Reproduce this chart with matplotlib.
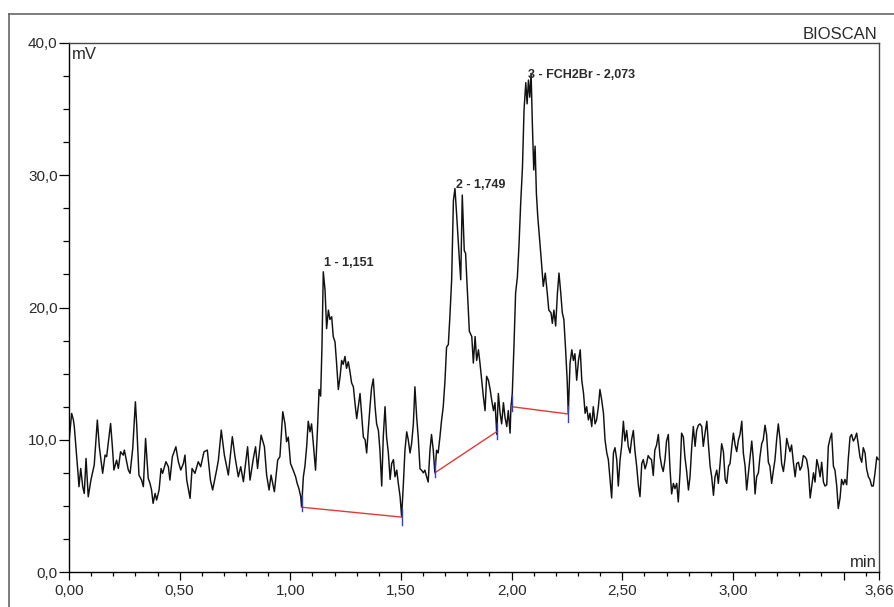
import matplotlib
matplotlib.use("Agg")
from matplotlib import pyplot as plt
from matplotlib.ticker import MultipleLocator
from matplotlib.lines import Line2D

plt.rcParams['font.family'] = ['Liberation Sans', 'DejaVu Sans']

# radio trace, retention time (min) vs detector signal (mV)
time_min = [
    0.000, 0.012, 0.020, 0.024, 0.035, 0.042, 0.045, 0.053, 0.062, 0.069, 0.077, 0.087, 0.099, 0.114,
    0.128, 0.137, 0.152, 0.163, 0.170, 0.188, 0.196, 0.203, 0.215, 0.223, 0.233, 0.245, 0.250, 0.268,
    0.276, 0.288, 0.300, 0.306, 0.316, 0.328, 0.336, 0.346, 0.358, 0.366, 0.373, 0.380, 0.389, 0.396,
    0.407, 0.416, 0.423, 0.438, 0.449, 0.456, 0.467, 0.483, 0.494, 0.505, 0.517, 0.524, 0.532, 0.547,
    0.556, 0.569, 0.584, 0.595, 0.610, 0.625, 0.639, 0.649, 0.667, 0.675, 0.688, 0.702, 0.720, 0.738,
    0.750, 0.765, 0.776, 0.788, 0.807, 0.818, 0.833, 0.843, 0.852, 0.868, 0.883, 0.893, 0.904, 0.913,
    0.928, 0.943, 0.953, 0.966,
    0.976, 0.983, 0.991, 1.001, 1.013, 1.024, 1.031, 1.039, 1.047, 1.051, 1.059, 1.066, 1.074, 1.081,
    1.089, 1.096, 1.104, 1.114, 1.122, 1.130, 1.137, 1.143, 1.149, 1.157, 1.164, 1.172, 1.179, 1.187,
    1.194, 1.202, 1.209, 1.217, 1.225, 1.232, 1.239, 1.247, 1.254, 1.262, 1.270, 1.277, 1.285, 1.292,
    1.300, 1.307, 1.315, 1.323, 1.330, 1.338, 1.345, 1.352, 1.360, 1.367, 1.375, 1.383, 1.390, 1.398,
    1.405, 1.413, 1.420, 1.428, 1.435, 1.443, 1.451, 1.458, 1.466, 1.473, 1.481, 1.488, 1.496, 1.503,
    1.511, 1.518, 1.526, 1.533, 1.541, 1.548, 1.556, 1.563, 1.571, 1.578, 1.586, 1.593, 1.601, 1.608,
    1.616, 1.623, 1.631, 1.638, 1.646, 1.653, 1.661, 1.668, 1.676, 1.683, 1.691, 1.699, 1.706, 1.714,
    1.721, 1.729,
    1.737, 1.744, 1.752, 1.764, 1.770, 1.777, 1.786, 1.792, 1.797, 1.809, 1.820, 1.827, 1.835, 1.842,
    1.850, 1.857, 1.865, 1.872, 1.880, 1.887, 1.895, 1.903, 1.910, 1.918, 1.925, 1.933, 1.940, 1.948,
    1.955, 1.963, 1.970, 1.978, 1.985, 1.993,
    1.997, 2.003, 2.011, 2.018, 2.026, 2.033, 2.041, 2.049, 2.056, 2.064, 2.070, 2.076, 2.082, 2.088,
    2.094, 2.100, 2.106, 2.112, 2.118, 2.127, 2.134, 2.143, 2.152, 2.161, 2.168, 2.178, 2.184, 2.191,
    2.199, 2.207, 2.214, 2.222, 2.229, 2.236, 2.244, 2.251, 2.256, 2.264, 2.272, 2.279, 2.286, 2.294,
    2.302, 2.310, 2.317, 2.325, 2.332, 2.339, 2.347, 2.354, 2.362, 2.369, 2.377, 2.384, 2.392,
    2.399, 2.407, 2.415, 2.422, 2.430, 2.437, 2.445, 2.452, 2.460, 2.467, 2.475, 2.482, 2.490, 2.497,
    2.505, 2.512, 2.520, 2.527, 2.535, 2.542, 2.550, 2.557, 2.565, 2.573, 2.580, 2.588, 2.595, 2.603,
    2.610, 2.617, 2.625, 2.632, 2.640, 2.647, 2.655, 2.663, 2.670, 2.678, 2.685, 2.693, 2.700, 2.708,
    2.716, 2.723, 2.731, 2.738, 2.746, 2.753, 2.761, 2.768, 2.776, 2.783, 2.791, 2.799, 2.806, 2.814,
    2.821, 2.829, 2.836, 2.844, 2.851, 2.859, 2.866, 2.874, 2.882, 2.889, 2.897, 2.904, 2.912, 2.919,
    2.927, 2.934, 2.942, 2.949, 2.957, 2.965, 2.972, 2.980, 2.987, 2.995, 3.002, 3.010, 3.017, 3.025,
    3.032, 3.040, 3.047, 3.055, 3.062, 3.070, 3.077, 3.085, 3.092, 3.100, 3.107, 3.115, 3.122, 3.130,
    3.137, 3.145, 3.152, 3.160, 3.167, 3.175, 3.183, 3.190, 3.198, 3.205, 3.213, 3.220, 3.228, 3.235,
    3.243, 3.250, 3.258, 3.265, 3.273, 3.281, 3.288, 3.296, 3.303, 3.311, 3.318, 3.326, 3.333, 3.341,
    3.349, 3.356, 3.364, 3.371, 3.379, 3.386, 3.394, 3.401, 3.409, 3.416, 3.424, 3.431, 3.439, 3.446,
    3.454, 3.461, 3.469, 3.476, 3.484, 3.491, 3.499, 3.506, 3.514, 3.521, 3.529, 3.536, 3.544, 3.551,
    3.559, 3.566, 3.574, 3.582, 3.589, 3.597, 3.604, 3.612, 3.619, 3.627, 3.634, 3.642, 3.650, 3.657,
]
signal_mv = [
    9.85, 11.99, 11.49, 10.98, 8.72, 7.20, 6.45, 7.83, 6.45, 5.94, 8.59, 5.69, 6.95, 8.09,
    11.49, 9.47, 7.46, 8.84, 8.72, 11.23, 9.47, 7.71, 8.46, 7.83, 9.09, 8.84, 9.22, 7.71,
    7.46, 9.35, 12.87, 11.11, 7.33, 6.95, 6.45, 10.10, 7.08, 6.70, 6.20, 5.19, 5.94, 5.44,
    6.20, 7.83, 7.46, 8.34, 7.96, 6.95, 8.72, 9.47, 8.34, 7.71, 8.21, 8.84, 6.95, 5.57,
    7.83, 7.46, 8.34, 7.96, 9.09, 9.22, 6.95, 6.20, 7.71, 8.46, 10.73, 8.84, 7.33, 10.23,
    8.72, 7.20, 7.96, 6.83, 9.47, 6.95, 8.59, 9.47, 7.83, 10.35, 9.47, 7.33, 6.20, 7.33,
    6.07, 8.46, 8.72, 12.12,
    11.2, 9.85, 10.2, 8.2, 7.7, 7.2, 6.7, 6.3, 5.7, 4.9, 7.2, 8.0, 9.5, 11.4,
    10.6, 11.2, 9.7, 7.7, 10.5, 13.8, 13.3, 17.0, 22.7, 21.3, 18.4, 19.8, 19.1, 19.3,
    17.8, 17.4, 15.8, 13.8, 14.8, 16.0, 15.7, 16.3, 15.4, 15.9, 15.1, 14.3, 14.0, 12.8,
    11.6, 12.5, 13.5, 11.7, 10.2, 10.0, 9.0, 10.7, 12.5, 13.9, 14.6, 12.5, 11.2, 10.7,
    9.2, 6.5, 10.2, 12.5, 10.2, 9.0, 7.0, 8.2, 8.5, 7.2, 7.7, 6.7, 5.7, 4.2,
    6.7, 9.2, 10.6, 10.0, 9.0, 9.7, 11.2, 14.0, 11.7, 10.2, 7.8, 7.7, 7.5, 7.7,
    7.2, 6.8, 9.2, 10.4, 9.2, 7.5, 9.2, 9.0, 10.2, 11.4, 12.5, 14.5, 17.0, 17.2,
    19.3, 22.1,
    28.1, 29.0, 26.9, 23.6, 22.1, 28.5, 24.3, 24.1, 22.3, 18.2, 17.8, 15.8, 17.8, 16.0,
    16.8, 15.8, 14.5, 13.3, 12.2, 14.8, 14.5, 13.8, 13.0, 12.2, 12.8, 10.4, 13.5, 12.0,
    11.2, 12.8, 11.7, 11.0, 12.2, 10.5,
    12.5, 13.5, 17.3, 21.1, 22.3, 24.6, 27.9, 30.6, 34.9, 37.0, 35.4, 37.2, 35.9, 37.7,
    33.7, 30.4, 32.2, 28.6, 26.9, 25.1, 23.6, 21.6, 22.6, 21.1, 19.8, 19.6, 18.8, 19.8,
    18.6, 21.1, 22.6, 21.1, 19.6, 19.1, 16.8, 14.5, 12.0, 15.8, 16.8, 16.0, 16.5, 14.5,
    16.0, 16.8, 14.5, 13.5, 12.0, 12.5, 11.5, 12.0, 11.0, 12.5, 11.2, 11.5, 12.5,
    13.8, 13.0, 12.0, 10.0, 9.0, 8.5, 7.0, 5.6, 9.0, 9.4, 8.5, 6.5, 8.5, 9.5,
    11.4, 9.9, 10.7, 9.5, 9.0, 10.0, 10.7, 9.2, 8.0, 6.5, 5.7, 8.2, 8.5, 7.8,
    8.2, 8.8, 8.6, 8.5, 7.3, 9.2, 9.6, 10.4, 8.8, 8.0, 7.6, 8.5, 9.9, 10.4,
    7.7, 5.9, 6.7, 6.3, 6.7, 5.3, 7.5, 10.5, 10.2, 8.7, 7.6, 6.2, 7.2, 9.5,
    11.0, 9.5, 10.7, 11.1, 11.2, 11.0, 9.5, 10.5, 11.4, 9.7, 8.0, 7.2, 5.8, 7.2,
    7.7, 6.7, 8.2, 9.7, 9.1, 7.0, 6.7, 8.0, 8.2, 9.5, 10.5, 9.6, 9.1, 10.0,
    10.4, 11.4, 9.0, 8.0, 6.2, 7.5, 8.6, 9.9, 8.5, 5.9, 7.2, 7.5, 8.7, 9.7,
    10.0, 11.1, 10.4, 8.3, 8.0, 6.7, 7.7, 8.5, 10.1, 11.2, 10.0, 8.2, 7.6, 8.5,
    10.1, 9.6, 9.1, 9.6, 8.3, 7.2, 8.2, 8.3, 7.7, 8.0, 8.8, 8.7, 8.5, 7.7,
    5.6, 6.5, 7.5, 6.8, 8.5, 8.0, 7.2, 8.3, 6.8, 6.5, 6.6, 9.5, 10.1, 10.5,
    8.0, 7.7, 6.5, 4.8, 5.6, 7.0, 6.6, 7.0, 6.6, 8.5, 10.2, 10.4, 9.9, 10.1,
    10.5, 9.7, 8.7, 8.3, 9.4, 9.0, 7.8, 7.2, 7.0, 6.5, 6.5, 7.5, 8.7, 8.5,
]

# integration baselines, one per peak
base_start_t = [1.051, 1.653, 2.000]
base_start_mv = [4.9, 7.5, 12.5]
base_end_t = [1.503, 1.936, 2.255]
base_end_mv = [4.15, 10.65, 11.95]

# peak labels: retention time, label height, text
peak_t = [1.151, 1.749, 2.073]
label_mv = [23.4, 29.3, 37.6]
peak_names = ["1 - 1,151", "2 - 1,749", "3 - FCH2Br - 2,073"]

x_ticks = [0.0, 0.5, 1.0, 1.5, 2.0, 2.5, 3.0, 3.5, 3.66]
x_labels = ["0,00", "0,50", "1,00", "1,50", "2,00", "2,50", "3,00", "", "3,66"]
y_ticks = [0, 10, 20, 30, 40]
y_labels = ["0,0", "10,0", "20,0", "30,0", "40,0"]

text_color = "#2a2a2a"

fig = plt.figure(figsize=(8.95, 6.07), dpi=100)
ax = fig.add_axes([69 / 895, 35 / 607, 810 / 895, 529 / 607])

ax.plot(time_min, signal_mv, color="#111111", lw=1.05)

for i in range(len(base_start_t)):
    ax.plot([base_start_t[i], base_end_t[i]], [base_start_mv[i], base_end_mv[i]], color="#e03a3a", lw=1.0)
    ax.plot([base_start_t[i]] * 2, [base_start_mv[i] - 0.3, base_start_mv[i] + 0.9], color="#3040c8", lw=1.0)
    ax.plot([base_end_t[i]] * 2, [base_end_mv[i] - 0.6, base_end_mv[i] + 0.6], color="#3040c8", lw=1.0)

for t, h, name in zip(peak_t, label_mv, peak_names):
    ax.text(t, h, name, fontsize=9, fontweight="bold", color=text_color, ha="left", va="center")

ax.set_xlim(0, 3.66)
ax.set_ylim(0, 40)
ax.set_xticks(x_ticks)
ax.set_xticklabels(x_labels)
ax.set_yticks(y_ticks)
ax.set_yticklabels(y_labels)
ax.xaxis.set_minor_locator(MultipleLocator(0.1))
ax.yaxis.set_minor_locator(MultipleLocator(2.5))
ax.tick_params(axis="x", which="major", length=5.8, width=0.9, pad=3, labelsize=11, labelcolor=text_color)
ax.tick_params(axis="x", which="minor", length=2.9, width=0.9)
ax.tick_params(axis="y", which="major", length=7.2, width=0.9, pad=1, labelsize=11, labelcolor=text_color)
ax.tick_params(axis="y", which="minor", length=4.3, width=0.9)

for side in ["left", "bottom"]:
    ax.spines[side].set_color("black")
    ax.spines[side].set_linewidth(1.0)
for side in ["top", "right"]:
    ax.spines[side].set_color("#444444")
    ax.spines[side].set_linewidth(1.0)

ax.text(0.003, 0.993, "mV", transform=ax.transAxes, fontsize=12, color=text_color, ha="left", va="top")
ax.text(0.997, 0.004, "min", transform=ax.transAxes, fontsize=12, color=text_color, ha="right", va="bottom")
fig.text(877 / 895, 1 - 39 / 607, "BIOSCAN", fontsize=12, color=text_color, ha="right", va="baseline")

# outer panel frame (runs off the right and bottom edges)
fig.add_artist(Line2D([9 / 895, 1.0], [1 - 14 / 607] * 2, transform=fig.transFigure, color="#666666", lw=1.2))
fig.add_artist(Line2D([9 / 895] * 2, [0.0, 1 - 14 / 607], transform=fig.transFigure, color="#666666", lw=1.2))

plt.savefig("out.png", dpi=100)
